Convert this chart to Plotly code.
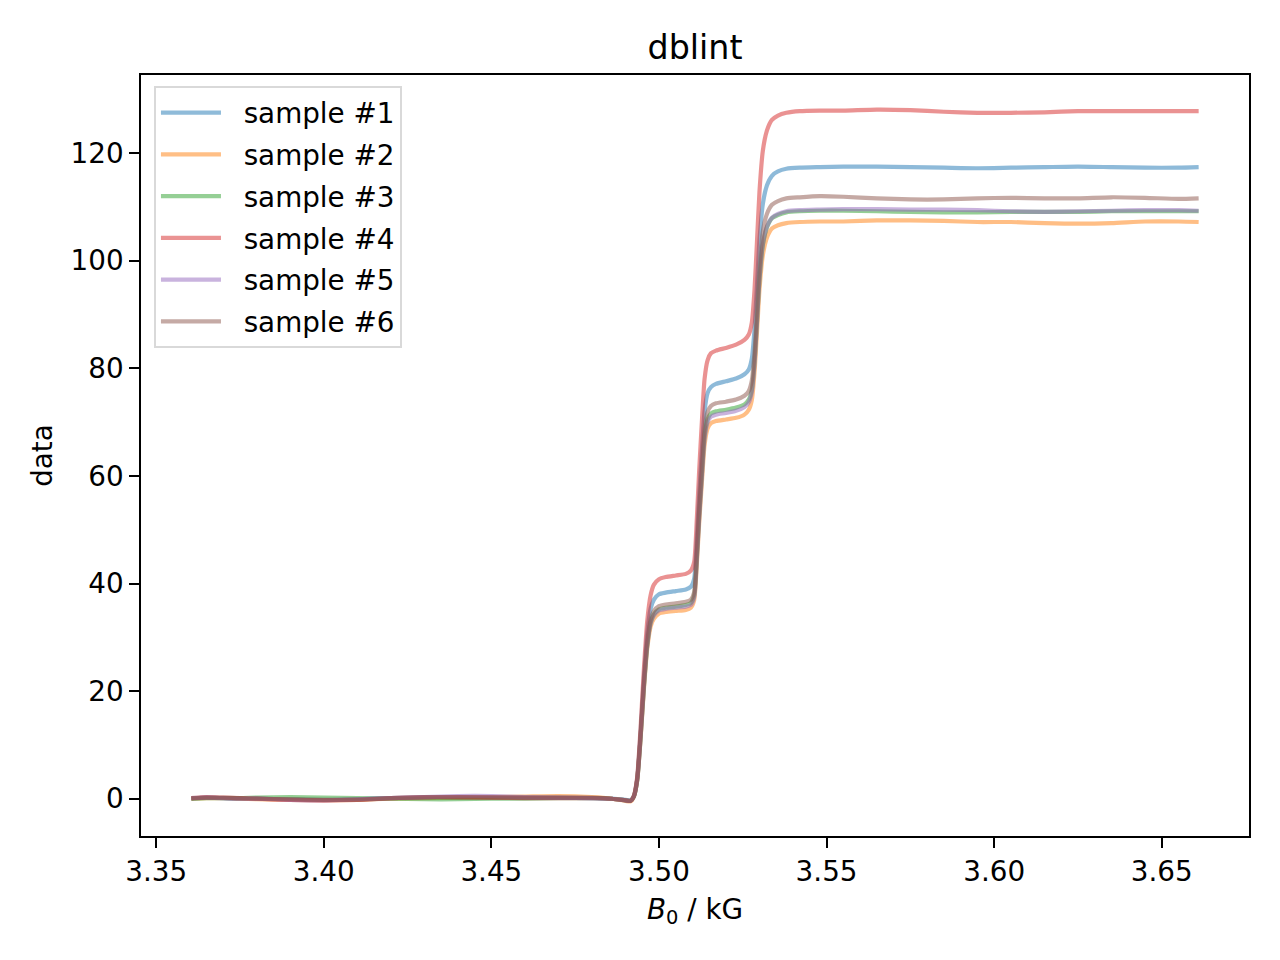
import plotly.graph_objs as go

# field axis in kG (denser sampling around the three lines)
b0 = [
    3.3605, 3.365, 3.370, 3.375, 3.380, 3.390, 3.400, 3.410, 3.420, 3.430,
    3.440, 3.450, 3.460, 3.470, 3.480, 3.486, 3.490,
    3.4915, 3.4925, 3.4935, 3.4945, 3.4955, 3.4965, 3.4975, 3.4985, 3.5000,
    3.502, 3.505, 3.508, 3.5095,
    3.5105, 3.5113, 3.5120, 3.5128, 3.5136, 3.5145, 3.5155,
    3.517, 3.520, 3.523, 3.5255,
    3.5268, 3.5277, 3.5285, 3.5292, 3.5300, 3.5310, 3.5322, 3.5337, 3.5355,
    3.538, 3.542, 3.548,
    3.555, 3.565, 3.575, 3.585, 3.595, 3.605, 3.615, 3.625, 3.635, 3.645,
    3.655, 3.661,
]

sample_1 = [
    0.0, 0.2, 0.1, 0.0, 0.0, -0.1, -0.2, -0.1, 0.1, 0.2, 0.2, 0.3, 0.2, 0.2, 0.1, 0.0, -0.2,
    -0.3, 0.5, 3.7, 12.2, 22.4, 30.8, 35.3, 37.0, 38.0,
    38.3, 38.6, 38.9, 39.4,
    40.9, 48.3, 56.5, 64.6, 72.0, 75.4, 76.5,
    77.1, 77.6, 78.1, 78.9,
    79.8, 81.8, 87.2, 94.8, 103.9, 110.6, 114.0, 115.8, 116.6, 117.1, 117.3, 117.4,
    117.5, 117.5, 117.4, 117.3, 117.2, 117.3, 117.4, 117.5, 117.4, 117.3, 117.3, 117.4,
]
sample_2 = [
    0.0, 0.1, 0.1, 0.0, -0.1, -0.2, -0.3, -0.2, 0.0, 0.1, 0.2, 0.3, 0.4, 0.5, 0.3, 0.0, -0.4,
    -0.5, 0.4, 3.4, 11.0, 20.3, 27.9, 32.0, 33.5, 34.4,
    34.7, 34.9, 35.1, 35.5,
    36.9, 43.7, 51.3, 58.8, 65.7, 68.8, 69.8,
    70.2, 70.5, 70.8, 71.4,
    72.3, 74.1, 79.2, 86.3, 94.8, 101.1, 104.3, 106.0, 106.6, 107.0, 107.2, 107.3,
    107.3, 107.5, 107.5, 107.4, 107.2, 107.2, 107.0, 106.9, 107.0, 107.3, 107.3, 107.2,
]
sample_3 = [
    0.0, 0.1, 0.1, 0.1, 0.2, 0.3, 0.2, 0.1, 0.0, -0.1, -0.1, 0.0, 0.0, 0.1, 0.1, 0.0, -0.3,
    -0.4, 0.4, 3.4, 11.3, 20.8, 28.5, 32.7, 34.3, 35.2,
    35.5, 35.7, 36.0, 36.4,
    37.8, 44.8, 52.6, 60.3, 67.4, 70.5, 71.6,
    72.0, 72.3, 72.7, 73.3,
    74.2, 76.0, 81.1, 88.2, 96.7, 103.0, 106.2, 107.9, 108.5, 109.0, 109.2, 109.3,
    109.3, 109.2, 109.1, 109.0, 109.0, 109.1, 109.1, 109.1, 109.2, 109.2, 109.2, 109.2,
]
sample_4 = [
    0.1, 0.3, 0.2, 0.1, 0.0, -0.2, -0.3, -0.2, 0.1, 0.3, 0.3, 0.2, 0.1, 0.1, 0.1, 0.0, -0.3,
    -0.4, 0.5, 4.0, 13.0, 24.0, 33.0, 37.8, 39.8, 40.8,
    41.2, 41.5, 41.8, 42.4,
    44.0, 52.0, 61.0, 70.0, 78.0, 81.5, 82.8,
    83.3, 83.8, 84.4, 85.3,
    86.3, 88.5, 94.5, 103.0, 113.0, 120.5, 124.2, 126.2, 127.0, 127.5, 127.8, 127.9,
    127.9, 128.1, 128.0, 127.7, 127.5, 127.5, 127.6, 127.8, 127.8, 127.8, 127.8, 127.8,
]
sample_5 = [
    0.1, 0.2, 0.1, 0.0, 0.0, -0.2, -0.3, -0.1, 0.1, 0.3, 0.5, 0.5, 0.3, 0.2, 0.1, 0.0, -0.3,
    -0.4, 0.4, 3.4, 11.2, 20.7, 28.4, 32.6, 34.1, 35.0,
    35.3, 35.5, 35.7, 36.0,
    37.4, 44.4, 52.1, 59.8, 66.8, 70.0, 71.0,
    71.4, 71.7, 72.1, 72.8,
    73.7, 75.6, 80.7, 88.0, 96.7, 103.1, 106.3, 108.0, 108.7, 109.2, 109.4, 109.5,
    109.6, 109.6, 109.5, 109.5, 109.4, 109.2, 109.1, 109.2, 109.3, 109.4, 109.4, 109.3,
]
sample_6 = [
    0.1, 0.2, 0.2, 0.1, 0.0, -0.1, -0.2, -0.2, 0.1, 0.3, 0.3, 0.2, 0.2, 0.2, 0.2, 0.0, -0.3,
    -0.4, 0.4, 3.5, 11.5, 21.1, 29.0, 33.3, 34.9, 35.8,
    36.1, 36.3, 36.6, 37.0,
    38.4, 45.6, 53.6, 61.5, 68.7, 71.9, 73.0,
    73.5, 73.8, 74.2, 74.9,
    75.8, 77.7, 82.9, 90.3, 98.9, 105.5, 108.7, 110.4, 111.1, 111.6, 111.8, 112.0,
    111.9, 111.6, 111.4, 111.4, 111.6, 111.7, 111.6, 111.6, 111.8, 111.7, 111.5, 111.6,
]

names = ['sample #1', 'sample #2', 'sample #3', 'sample #4', 'sample #5', 'sample #6']
series = [sample_1, sample_2, sample_3, sample_4, sample_5, sample_6]
colors = ['#1f77b4', '#ff7f0e', '#2ca02c', '#d62728', '#9467bd', '#8c564b']

x_ticks = [3.35, 3.40, 3.45, 3.50, 3.55, 3.60, 3.65]
y_ticks = [0, 20, 40, 60, 80, 100, 120]

FONT = 'DejaVu Sans'
# the page body has an 8px margin, so the figure is drawn 8px smaller
W, H = 1272, 952

fig = go.Figure()
for name, ys, col in zip(names, series, colors):
    fig.add_trace(go.Scatter(
        x = b0, y = ys, name = '\u00a0\u00a0' + name, mode = 'lines',
        line = dict(color = col, width = 4.2, shape = 'spline', smoothing = 0.6),
        opacity = 0.5,
        legendgroup = name,
    ))

# matplotlib-like 5% autoscale margins
all_y = [v for ys in series for v in ys]
x_pad = 0.05 * (max(b0) - min(b0))
y_pad = 0.05 * (max(all_y) - min(all_y))

axis_common = dict(
    showline = True, linecolor = 'black', linewidth = 2.2, mirror = True,
    showgrid = False, zeroline = False,
    ticks = 'outside', ticklen = 9.7, tickwidth = 2.2, tickcolor = 'black',
    tickfont = dict(family = FONT, size = 27.8, color = 'black'),
)

fig.update_layout(
    width = W, height = H,
    paper_bgcolor = 'white', plot_bgcolor = 'white',
    margin = dict(l = 133, r = 31, t = 67, b = 124),
    title = dict(
        text = 'dblint', xref = 'paper', x = 0.5, xanchor = 'center',
        y = 1 - 39 / H, yanchor = 'middle',
        font = dict(family = FONT, size = 33.3, color = 'black'),
    ),
    xaxis = dict(
        **axis_common,
        range = [min(b0) - x_pad, max(b0) + x_pad],
        tickvals = x_ticks, ticktext = [f'{t:.2f}' for t in x_ticks],
        title = dict(text = '<i>B</i><sub>0</sub> / kG', standoff = 12,
                     font = dict(family = FONT, size = 27.8, color = 'black')),
    ),
    yaxis = dict(
        **axis_common,
        range = [min(all_y) - y_pad, max(all_y) + y_pad],
        tickvals = y_ticks,
        title = dict(text = 'data', standoff = 10,
                     font = dict(family = FONT, size = 27.8, color = 'black')),
    ),
    legend = dict(
        x = 0.0117, y = 0.9855, xanchor = 'left', yanchor = 'top',
        bgcolor = 'rgba(255,255,255,0.8)', bordercolor = '#d9d9d9', borderwidth = 2,
        font = dict(family = FONT, size = 27.8, color = 'black'),
        itemwidth = 60, tracegroupgap = 2.6,
    ),
    showlegend = True,
)

fig.write_html('out.html')
